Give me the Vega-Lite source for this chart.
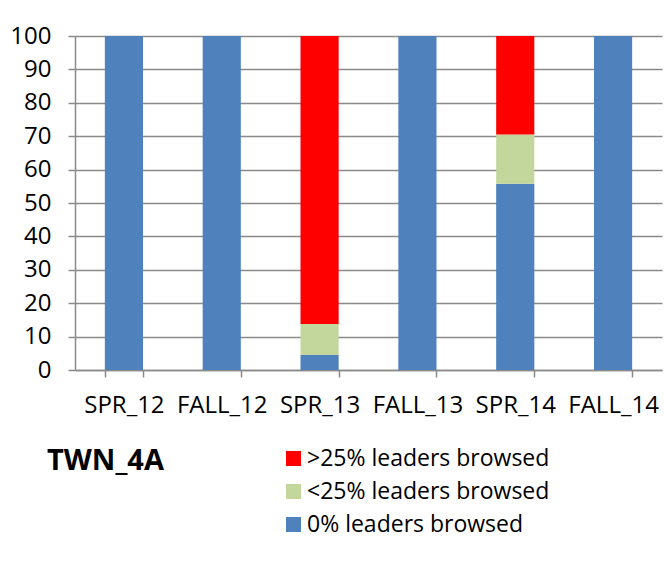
{
  "$schema": "https://vega.github.io/schema/vega-lite/v6.json",
  "autosize": {"type": "none"},
  "width": 587,
  "height": 334,
  "padding": {"left": 75, "top": 36, "right": 2, "bottom": 205},
  "background": "white",
  "config": {
    "font": "Open Sans",
    "view": {"stroke": null}
  },
  "data": {
    "values": [
      {"term": "SPR_12", "cat": "0% leaders browsed", "ord": 1, "value": 100},
      {"term": "FALL_12", "cat": "0% leaders browsed", "ord": 1, "value": 100},
      {"term": "SPR_13", "cat": "0% leaders browsed", "ord": 1, "value": 4.5},
      {"term": "SPR_13", "cat": "<25% leaders browsed", "ord": 2, "value": 9.3},
      {"term": "SPR_13", "cat": ">25% leaders browsed", "ord": 3, "value": 86.2},
      {"term": "FALL_13", "cat": "0% leaders browsed", "ord": 1, "value": 100},
      {"term": "SPR_14", "cat": "0% leaders browsed", "ord": 1, "value": 55.8},
      {"term": "SPR_14", "cat": "<25% leaders browsed", "ord": 2, "value": 14.7},
      {"term": "SPR_14", "cat": ">25% leaders browsed", "ord": 3, "value": 29.5},
      {"term": "FALL_14", "cat": "0% leaders browsed", "ord": 1, "value": 100}
    ]
  },
  "mark": {"type": "bar"},
  "encoding": {
    "x": {
      "field": "term",
      "type": "nominal",
      "sort": ["SPR_12", "FALL_12", "SPR_13", "FALL_13", "SPR_14", "FALL_14"],
      "scale": {"paddingInner": 0.61, "paddingOuter": 0.305},
      "axis": {
        "title": null,
        "labelAngle": 0,
        "labelFontSize": 24,
        "labelColor": "black",
        "labelPadding": 16,
        "domainColor": "#8a8a8a",
        "domainWidth": 1.5,
        "tickColor": "#8a8a8a",
        "tickWidth": 1.5,
        "tickSize": 7,
        "tickBand": "extent",
        "grid": false
      }
    },
    "y": {
      "field": "value",
      "type": "quantitative",
      "stack": "zero",
      "scale": {"domain": [0, 100], "nice": false},
      "axis": {
        "title": null,
        "values": [0, 10, 20, 30, 40, 50, 60, 70, 80, 90, 100],
        "labelFontSize": 24,
        "labelColor": "black",
        "labelPadding": 17,
        "domainColor": "#8a8a8a",
        "domainWidth": 1.5,
        "tickColor": "#8a8a8a",
        "tickWidth": 1.5,
        "tickSize": 7,
        "gridColor": "#8a8a8a",
        "gridWidth": 1.5,
        "gridOpacity": 1
      }
    },
    "color": {
      "field": "cat",
      "type": "nominal",
      "scale": {
        "domain": [">25% leaders browsed", "<25% leaders browsed", "0% leaders browsed"],
        "range": ["#FF0000", "#C3D69B", "#4F81BD"]
      },
      "legend": {
        "title": "TWN_4A",
        "titleOrient": "left",
        "titleAnchor": "start",
        "titleFontSize": 29,
        "titleFontWeight": "bold",
        "titleColor": "black",
        "titlePadding": 118,
        "titleBaseline": "top",
        "orient": "none",
        "legendX": -28,
        "legendY": 411,
        "symbolType": "square",
        "symbolSize": 225,
        "symbolStrokeWidth": 0,
        "labelFontSize": 23,
        "labelColor": "black",
        "labelOffset": 2,
        "labelLimit": 400,
        "rowPadding": 9
      }
    },
    "order": {"field": "ord", "type": "quantitative"}
  }
}
